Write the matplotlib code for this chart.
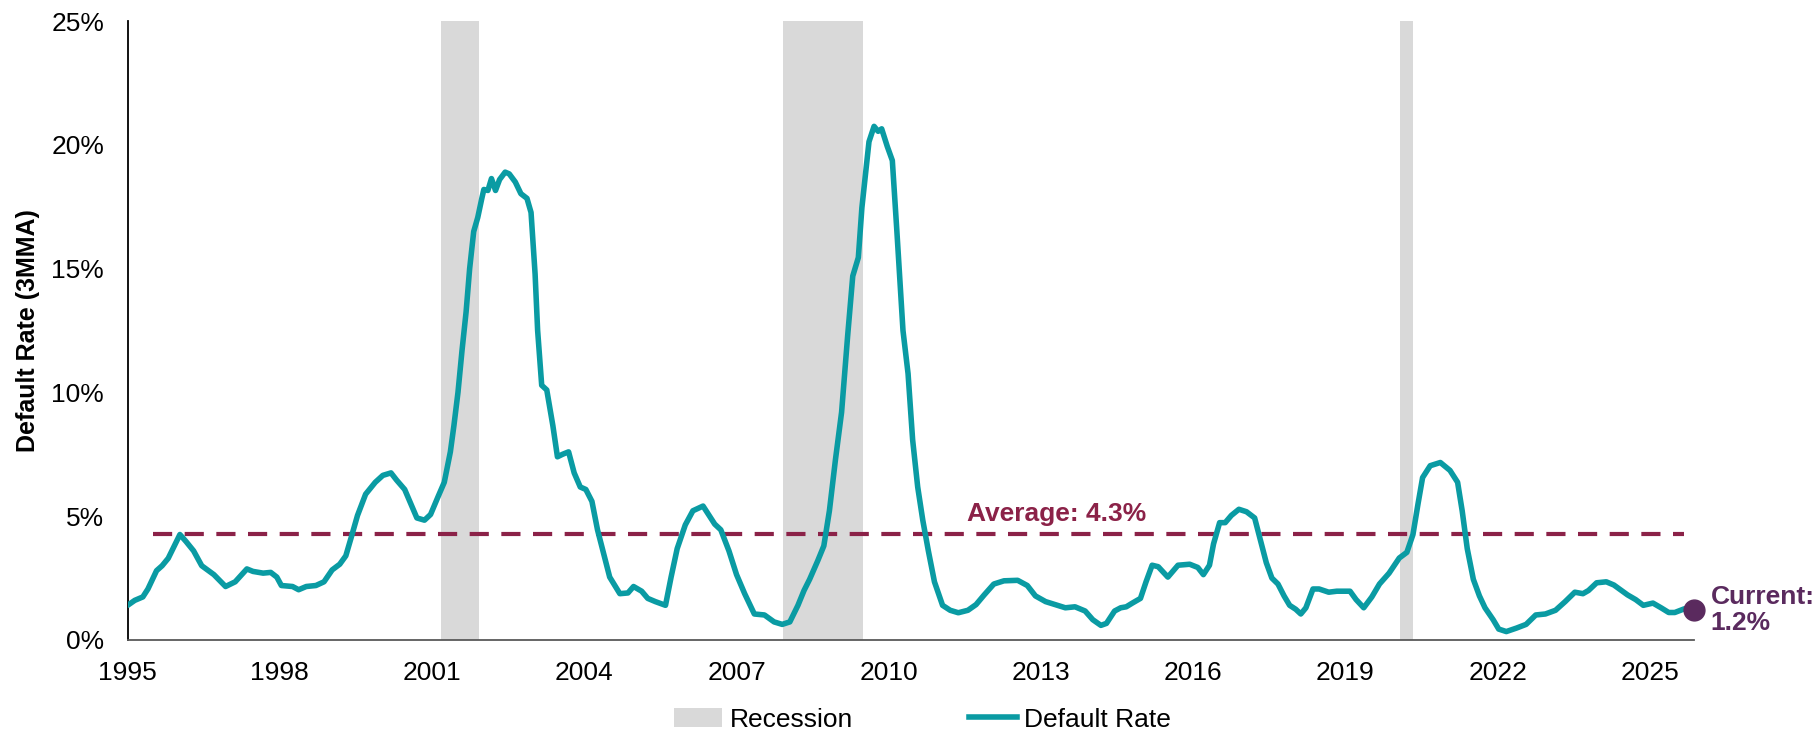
import matplotlib
matplotlib.use("Agg")
import matplotlib.pyplot as plt
from matplotlib.patches import Patch
from matplotlib.lines import Line2D
from matplotlib.ticker import FuncFormatter

plt.rcParams['font.family'] = ['Liberation Sans Narrow', 'Liberation Sans', 'DejaVu Sans']

# default rate (3MMA) as (decimal year, %)
years = [
    1995.0, 1995.14, 1995.3, 1995.4, 1995.57, 1995.68, 1995.8, 1995.92, 1996.03, 1996.15,
    1996.3, 1996.46, 1996.7, 1996.93, 1997.12, 1997.35, 1997.47, 1997.67, 1997.82, 1997.94,
    1998.03, 1998.25, 1998.37, 1998.52, 1998.71, 1998.87, 1999.03, 1999.18, 1999.3, 1999.41,
    1999.53, 1999.69, 1999.88, 2000.03, 2000.19, 2000.3, 2000.46, 2000.58, 2000.7, 2000.85,
    2000.97, 2001.12, 2001.24, 2001.36, 2001.43, 2001.51, 2001.59, 2001.67, 2001.74, 2001.82,
    2001.9, 2001.98, 2002.02, 2002.1, 2002.17, 2002.25, 2002.33, 2002.44, 2002.52, 2002.64,
    2002.75, 2002.87, 2002.95, 2003.03, 2003.08, 2003.16, 2003.26, 2003.38, 2003.47, 2003.57,
    2003.69, 2003.8, 2003.92, 2004.03, 2004.15, 2004.26, 2004.38, 2004.5, 2004.7, 2004.86,
    2004.97, 2005.13, 2005.25, 2005.4, 2005.6, 2005.71, 2005.83, 2005.99, 2006.14, 2006.34,
    2006.46, 2006.57, 2006.69, 2006.85, 2007.0, 2007.16, 2007.35, 2007.55, 2007.74, 2007.9,
    2008.05, 2008.21, 2008.33, 2008.44, 2008.6, 2008.72, 2008.83, 2008.95, 2009.07, 2009.19,
    2009.29, 2009.4, 2009.47, 2009.61, 2009.71, 2009.79, 2009.86, 2009.97, 2010.07, 2010.16,
    2010.28, 2010.38, 2010.47, 2010.57, 2010.67, 2010.78, 2010.9, 2011.06, 2011.21, 2011.37,
    2011.56, 2011.72, 2011.88, 2012.07, 2012.27, 2012.54, 2012.73, 2012.89, 2013.09, 2013.28,
    2013.48, 2013.67, 2013.87, 2014.02, 2014.18, 2014.29, 2014.45, 2014.57, 2014.68, 2014.8,
    2014.96, 2015.07, 2015.19, 2015.31, 2015.5, 2015.7, 2015.93, 2016.09, 2016.2, 2016.32,
    2016.4, 2016.52, 2016.63, 2016.75, 2016.9, 2017.05, 2017.21, 2017.32, 2017.44, 2017.55,
    2017.67, 2017.79, 2017.9, 2018.02, 2018.12, 2018.22, 2018.36, 2018.48, 2018.67, 2018.83,
    2019.09, 2019.21, 2019.36, 2019.52, 2019.67, 2019.86, 2020.06, 2020.21, 2020.33, 2020.43,
    2020.52, 2020.67, 2020.87, 2021.06, 2021.21, 2021.3, 2021.4, 2021.52, 2021.64, 2021.75,
    2021.91, 2022.02, 2022.17, 2022.37, 2022.56, 2022.75, 2022.94, 2023.14, 2023.33, 2023.52,
    2023.68, 2023.79, 2023.95, 2024.14, 2024.29, 2024.56, 2024.72, 2024.87, 2025.06, 2025.22,
    2025.37, 2025.49, 2025.68, 2025.87,
]
default_rate = [
    1.4, 1.6, 1.74, 2.06, 2.8, 3.0, 3.3, 3.8, 4.26, 3.98,
    3.6, 3.0, 2.64, 2.16, 2.35, 2.87, 2.77, 2.7, 2.73, 2.54,
    2.2, 2.16, 2.03, 2.16, 2.2, 2.35, 2.83, 3.06, 3.4, 4.17,
    5.03, 5.89, 6.37, 6.65, 6.75, 6.46, 6.08, 5.5, 4.93, 4.84,
    5.07, 5.8, 6.37, 7.6, 8.66, 10.0, 11.7, 13.25, 15.0, 16.5,
    17.07, 17.84, 18.2, 18.16, 18.64, 18.16, 18.6, 18.9, 18.83, 18.5,
    18.03, 17.84, 17.27, 14.78, 12.5, 10.29, 10.1, 8.66, 7.4, 7.5,
    7.6, 6.75, 6.18, 6.08, 5.6, 4.45, 3.5, 2.54, 1.87, 1.9,
    2.16, 1.97, 1.68, 1.55, 1.4, 2.54, 3.69, 4.65, 5.22, 5.41,
    5.03, 4.68, 4.45, 3.6, 2.64, 1.87, 1.05, 1.01, 0.73, 0.63,
    0.73, 1.4, 2.0, 2.45, 3.2, 3.8, 5.22, 7.3, 9.2, 12.3,
    14.7, 15.45, 17.46, 20.13, 20.75, 20.55, 20.65, 19.94, 19.37, 16.5,
    12.5, 10.76, 8.09, 6.18, 4.84, 3.6, 2.35, 1.4, 1.2, 1.1,
    1.2, 1.43, 1.82, 2.26, 2.39, 2.41, 2.2, 1.78, 1.55, 1.43,
    1.3, 1.34, 1.17, 0.82, 0.59, 0.67, 1.17, 1.3, 1.34, 1.49,
    1.68, 2.35, 3.02, 2.96, 2.54, 3.02, 3.06, 2.93, 2.64, 3.02,
    3.88, 4.74, 4.74, 5.03, 5.28, 5.18, 4.93, 4.07, 3.12, 2.5,
    2.26, 1.78, 1.4, 1.24, 1.05, 1.3, 2.06, 2.06, 1.93, 1.97,
    1.97, 1.63, 1.3, 1.74, 2.26, 2.7, 3.31, 3.54, 4.26, 5.5,
    6.56, 7.04, 7.17, 6.85, 6.37, 5.22, 3.69, 2.45, 1.78, 1.3,
    0.82, 0.44, 0.34, 0.48, 0.63, 1.01, 1.05, 1.2, 1.55, 1.93,
    1.87, 2.0, 2.31, 2.35, 2.22, 1.82, 1.63, 1.4, 1.49, 1.3,
    1.11, 1.11, 1.26, 1.2,
]

recession_start = [2001.17, 2007.92, 2020.08]
recession_end = [2001.92, 2009.5, 2020.33]

average = 4.3
average_span = [1995.5, 2025.67]
current = 1.2

xtick_years = [1995, 1998, 2001, 2004, 2007, 2010, 2013, 2016, 2019, 2022, 2025]

teal = '#0A9BA3'
grey = '#D9D9D9'
maroon = '#8B2248'
purple = '#5A2A5E'

fig = plt.figure(figsize=(18.13, 7.42), dpi=100)
ax = fig.add_axes([0.0704, 0.1375, 0.864, 0.834])

for s, e in zip(recession_start, recession_end):
    ax.axvspan(s, e, color=grey, lw=0, zorder=1)

ax.plot(average_span, [average, average], color=maroon, lw=3.0,
        dashes=(4.6, 3.0), zorder=2)
ax.plot(years, default_rate, color=teal, lw=4.0, zorder=3,
        solid_joinstyle='round', solid_capstyle='round')
ax.plot(years[-1], default_rate[-1], 'o', color=purple, ms=15, zorder=4, clip_on=False)

ax.text(2011.55, average + 0.3, 'Average: 4.3%', color=maroon, fontsize=19,
        fontweight='bold', ha='left', va='bottom')
ax.text(years[-1] + 0.33, current, 'Current:\n%.1f%%' % current, color=purple,
        fontsize=19, fontweight='bold', ha='left', va='center', linespacing=1.1)

ax.set_xlim(1995, 2025.87)
ax.set_ylim(0, 25)
ax.set_yticks([0, 5, 10, 15, 20, 25])
ax.yaxis.set_major_formatter(FuncFormatter(lambda v, p: '%d%%' % v))
ax.set_xticks(xtick_years)
ax.set_xticklabels([str(y) for y in xtick_years])
ax.tick_params(axis='both', length=0, labelsize=19, colors='black')
ax.tick_params(axis='x', pad=15)
ax.tick_params(axis='y', pad=17)

for side in ['top', 'right']:
    ax.spines[side].set_visible(False)
ax.spines['left'].set_color('black')
ax.spines['left'].set_linewidth(1.3)
ax.spines['bottom'].set_color('#595959')
ax.spines['bottom'].set_linewidth(1.3)

ax.set_ylabel('Default Rate (3MMA)', fontsize=18, fontweight='bold', labelpad=8)

handles = [Patch(facecolor=grey, edgecolor='none'),
           Line2D([0], [0], color=teal, lw=4.0)]
fig.legend(handles, ['Recession', 'Default Rate'], loc='lower center',
           bbox_to_anchor=(0.509, -0.018), ncol=2, frameon=False, fontsize=19,
           handlelength=1.8, columnspacing=4.4, handletextpad=0.3)

fig.savefig('out.png', dpi=100)
